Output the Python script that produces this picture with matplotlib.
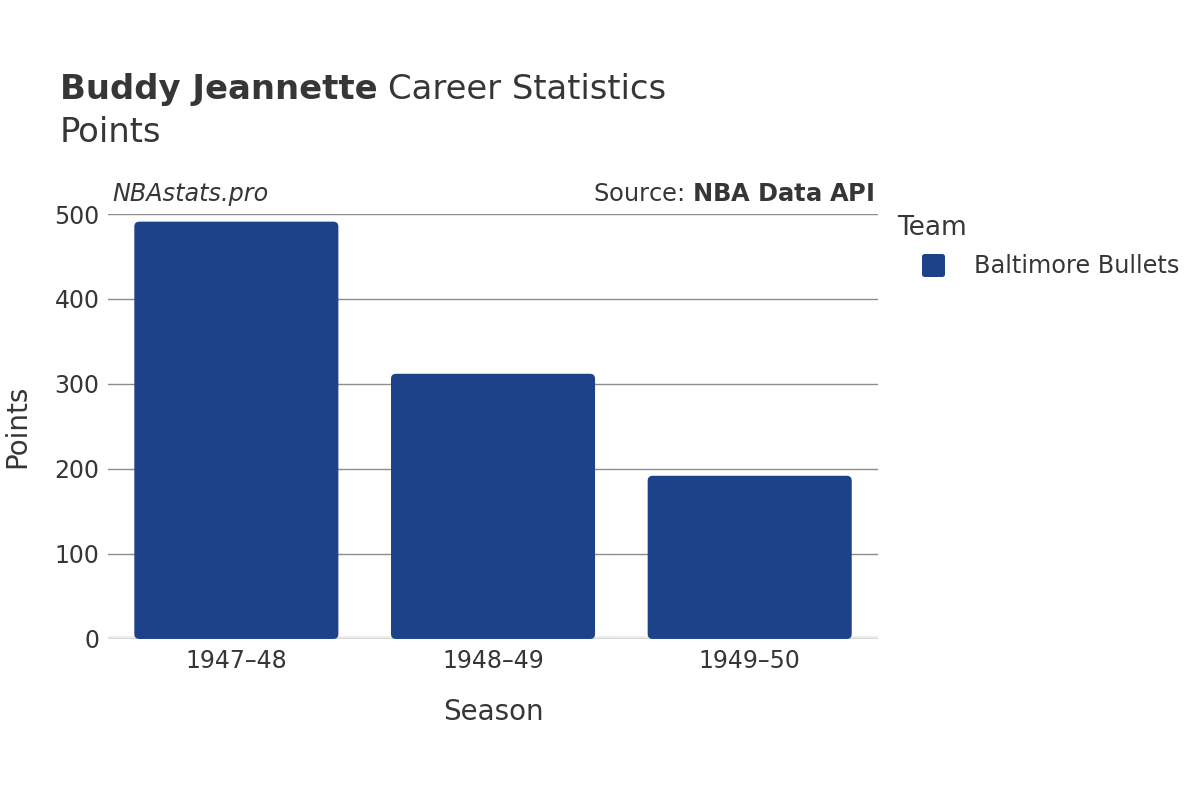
import matplotlib.pyplot as plt
from matplotlib.patches import FancyBboxPatch
from matplotlib.lines import Line2D
from matplotlib.markers import MarkerStyle

# data
seasons = ['1947–48', '1948–49', '1949–50']
points = [491, 312, 192]
team = 'Baltimore Bullets'
bar_color = '#1d428a'
text_color = '#363636'

plt.rcParams['font.family'] = ['DejaVu Sans']

fig = plt.figure(figsize=(12, 8), dpi=100)
ax = fig.add_axes([0.09, 0.2013, 0.6417, 0.5312])

bars = ax.bar(range(len(seasons)), points, width=0.795, color=bar_color)
ax.set_xlim(-0.5, len(seasons) - 0.5)
ax.set_ylim(0, 500)

# swap plain bars for ones with small rounded corners
px_x = 1 / 257.0   # x data units per pixel
px_y = 1 / 0.85    # y data units per pixel
for b in bars:
    x, y = b.get_x(), b.get_y()
    w, h = b.get_width(), b.get_height()
    fb = FancyBboxPatch((x, y), w, h,
                        boxstyle='round,pad=0,rounding_size=%f' % (5 * px_x),
                        mutation_aspect=px_y / px_x,
                        facecolor=bar_color, edgecolor='none', zorder=2)
    b.remove()
    ax.add_patch(fb)

ax.set_yticks([0, 100, 200, 300, 400, 500])
ax.grid(axis='y', color='#8c8c8c', linewidth=1, zorder=0)
ax.axhline(0, color='#ebebeb', linewidth=4, zorder=1)
for s in ax.spines.values():
    s.set_visible(False)
ax.tick_params(length=0, labelsize=17, colors=text_color, pad=6)
ax.tick_params(axis='x', pad=7)
ax.set_xticks(range(len(seasons)))
ax.set_xticklabels(seasons)
ax.set_xlabel('Season', fontsize=20, color=text_color, labelpad=18)
ax.set_ylabel('Points', fontsize=20, color=text_color, labelpad=17)

# title: bold name then regular text
t1 = fig.text(0.05, 0.876, 'Buddy Jeannette', fontsize=24.4, fontweight='bold',
              color=text_color, va='baseline')
fig.canvas.draw()
bb = t1.get_window_extent()
fig.text(bb.x1 / 1200 + 0.009, 0.876, 'Career Statistics', fontsize=24.4,
         color=text_color, va='baseline')
fig.text(0.05, 0.822, 'Points', fontsize=24.4, color=text_color, va='baseline')

ax.text(0.006, 1.02, 'NBAstats.pro', transform=ax.transAxes, fontsize=17.2,
        style='italic', color=text_color, va='bottom', ha='left')
ax.text(0.995, 1.02, r'Source: $\bf{NBA\ Data\ API}$', transform=ax.transAxes,
        fontsize=17.4, color=text_color, va='bottom', ha='right')

# legend
fig.text(0.748, 0.715, 'Team', fontsize=19, color=text_color, va='center', ha='left')
handles = [Line2D([], [], linestyle='none',
                  marker=MarkerStyle('s', joinstyle='round'), markersize=13,
                  markerfacecolor=bar_color, markeredgecolor=bar_color,
                  markeredgewidth=3.6, label=team)]
leg = fig.legend(handles=handles, loc='center left',
                 bbox_to_anchor=(916.6 / 1200, 0.6675), frameon=False, fontsize=17.3,
                 handlelength=1.4, handletextpad=0.98, borderpad=0,
                 borderaxespad=0)
for t in leg.get_texts():
    t.set_color(text_color)

fig.savefig('out.png', dpi=100)
